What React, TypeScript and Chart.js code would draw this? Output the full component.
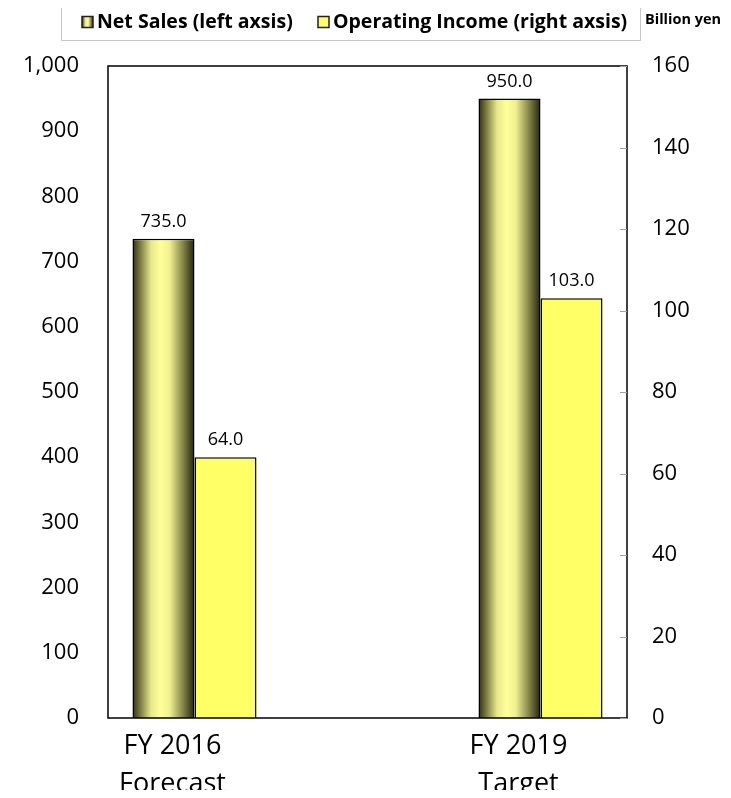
import React, { useEffect, useRef } from 'react';
import { Chart, registerables } from 'chart.js';

Chart.register(...registerables);

// ---- data ----
const categories: (string | string[])[] = [['FY 2016', 'Forecast'], '', ['FY 2019', 'Target']];
const netSales: (number | null)[] = [735.0, null, 950.0];
const operatingIncome: (number | null)[] = [64.0, null, 103.0];
const seriesLabels = ['Net Sales (left axsis)', 'Operating Income (right axsis)'];
const unitLabel = 'Billion yen';
const leftAxis = { min: 0, max: 1000, step: 100 };
const rightAxis = { min: 0, max: 160, step: 20 };

const FONT = '"Open Sans", "Noto Sans", sans-serif';
const CAT_PCT = 0.717;
const OI_COLOR = '#ffff66';

function salesGradient(c: CanvasRenderingContext2D, x0: number, x1: number) {
  const g = c.createLinearGradient(x0, 0, x1, 0);
  g.addColorStop(0, '#2e2e14');
  g.addColorStop(0.15, '#8a8a4c');
  g.addColorStop(0.3, '#e8e88c');
  g.addColorStop(0.45, '#ffff99');
  g.addColorStop(0.6, '#f0f090');
  g.addColorStop(0.8, '#8c8c4e');
  g.addColorStop(1, '#22220e');
  return g;
}

function salesFill(ctx: any) {
  const chart = ctx.chart;
  const xs = chart.scales?.x;
  if (!xs || ctx.type !== 'data') return '#e0e080';
  const c = xs.getPixelForValue(ctx.dataIndex);
  const catW = xs.width / chart.data.labels.length;
  const x0 = c - (catW * CAT_PCT) / 2;
  if (!isFinite(c) || !isFinite(x0) || !(catW > 0)) return '#e0e080';
  return salesGradient(chart.ctx, x0, c);
}

const decorPlugin = {
  id: 'decor',
  afterDatasetsDraw(chart: any) {
    const c: CanvasRenderingContext2D = chart.ctx;
    const { left, right, top, bottom } = chart.chartArea;
    c.save();
    c.strokeStyle = '#000';
    c.lineWidth = 1.5;
    c.strokeRect(left, top, right - left, bottom - top);
    const ys = chart.scales.y1;
    c.strokeStyle = '#a0a0a0';
    c.lineWidth = 1;
    ys.ticks.forEach((t: any) => {
      const y = Math.round(ys.getPixelForValue(t.value)) + 0.5;
      c.beginPath();
      c.moveTo(right - 7, y);
      c.lineTo(right, y);
      c.stroke();
    });
    c.fillStyle = '#000';
    c.font = `18px ${FONT}`;
    c.textAlign = 'center';
    c.textBaseline = 'alphabetic';
    chart.data.datasets.forEach((ds: any, di: number) => {
      const meta = chart.getDatasetMeta(di);
      meta.data.forEach((el: any, i: number) => {
        const v = ds.data[i];
        if (v === null || v === undefined) return;
        c.fillText(Number(v).toFixed(1), el.x, el.y - 12);
      });
    });
    c.restore();
  },
  afterDraw(chart: any) {
    const c: CanvasRenderingContext2D = chart.ctx;
    c.save();
    c.strokeStyle = '#c8c8c8';
    c.lineWidth = 1;
    c.strokeRect(61.5, 3.5, 579, 37);
    c.font = `bold 19.5px ${FONT}`;
    c.textBaseline = 'middle';
    c.textAlign = 'left';
    const my = 22;
    const markerX = [82, 318];
    chart.data.datasets.forEach((d: any, i: number) => {
      const box = 11;
      const x = markerX[i];
      c.fillStyle = i === 0 ? salesGradient(c, x, x + box) : OI_COLOR;
      c.fillRect(x, my - box / 2, box, box);
      c.strokeStyle = '#222';
      c.lineWidth = 1.5;
      c.strokeRect(x, my - box / 2, box, box);
      c.fillStyle = '#000';
      c.fillText(seriesLabels[i], x + box + 4, my);
    });
    c.font = `bold 14.5px ${FONT}`;
    c.fillText(unitLabel, 645, 20);
    c.restore();
  },
};

export default function App() {
  const ref = useRef<HTMLCanvasElement | null>(null);
  useEffect(() => {
    if (!ref.current) return;
    const chart = new Chart(ref.current, {
      type: 'bar',
      data: {
        labels: categories as any,
        datasets: [
          {
            label: seriesLabels[0],
            data: netSales,
            yAxisID: 'y',
            backgroundColor: salesFill as any,
            borderColor: '#000',
            borderWidth: 1.5,
            categoryPercentage: CAT_PCT,
            barPercentage: 1,
          },
          {
            label: seriesLabels[1],
            data: operatingIncome,
            yAxisID: 'y1',
            backgroundColor: OI_COLOR,
            borderColor: '#000',
            borderWidth: 1.5,
            categoryPercentage: CAT_PCT,
            barPercentage: 1,
          },
        ],
      },
      options: {
        animation: false,
        responsive: true,
        maintainAspectRatio: false,
        layout: { padding: { top: 66 } },
        plugins: {
          legend: { display: false },
          tooltip: { enabled: false },
        },
        scales: {
          x: {
            grid: { display: false, drawTicks: false },
            border: { display: false },
            ticks: {
              color: '#000',
              font: { family: FONT, size: 27, lineHeight: 1.38 },
              padding: 10,
              labelOffset: -22,
              maxRotation: 0,
              autoSkip: false,
            },
            afterFit: (s: any) => {
              s.height = 80;
            },
          },
          y: {
            position: 'left',
            min: leftAxis.min,
            max: leftAxis.max,
            grid: { display: false, drawTicks: false },
            border: { display: false },
            ticks: {
              stepSize: leftAxis.step,
              color: '#000',
              font: { family: FONT, size: 22 },
              padding: 29,
            },
            afterFit: (s: any) => {
              s.width = 108;
            },
          },
          y1: {
            position: 'right',
            min: rightAxis.min,
            max: rightAxis.max,
            grid: { display: false, drawTicks: false },
            border: { display: false },
            ticks: {
              stepSize: rightAxis.step,
              color: '#000',
              font: { family: FONT, size: 22 },
              padding: 25,
            },
            afterFit: (s: any) => {
              s.width = 104;
            },
          },
        },
      },
      plugins: [decorPlugin],
    });
    return () => chart.destroy();
  }, []);
  return (
    <div style={{ margin: '-8px', width: 731, height: 798, position: 'relative', background: '#fff' }}>
      <canvas ref={ref} />
    </div>
  );
}
